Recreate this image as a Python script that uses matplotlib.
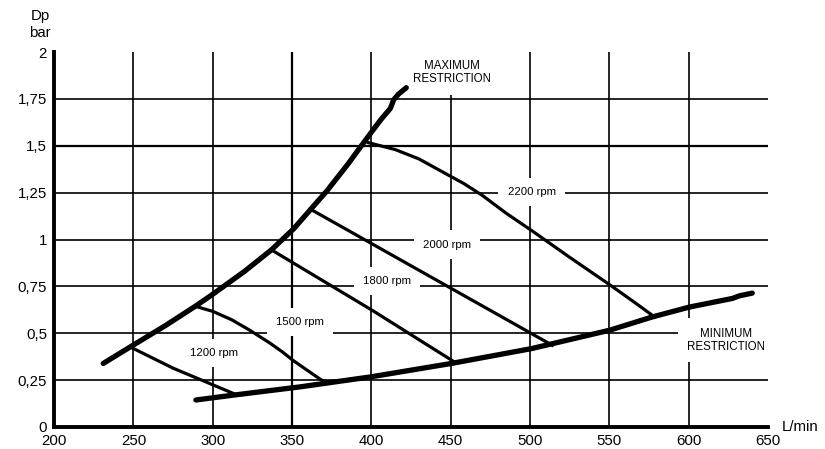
import matplotlib.pyplot as plt

plt.rcParams['font.family'] = ['Liberation Sans', 'DejaVu Sans']

# maximum / minimum restriction curves (L/min, bar)
max_x = [231, 248, 270, 289, 300, 320, 337, 351, 361, 372, 385, 398, 406, 412, 414, 417, 422]
max_y = [0.339, 0.427, 0.54, 0.644, 0.708, 0.83, 0.945, 1.057, 1.154, 1.26, 1.40, 1.55, 1.64, 1.70, 1.745, 1.775, 1.81]
min_x = [289.4, 313, 355, 400, 450.4, 500.8, 550, 577, 600.5, 627.6, 632, 640]
min_y = [0.144, 0.17, 0.214, 0.268, 0.339, 0.418, 0.516, 0.587, 0.64, 0.686, 0.70, 0.714]

# constant speed curves
rpm_1200_x = [248, 275, 313]
rpm_1200_y = [0.427, 0.314, 0.179]
rpm_1500_x = [289, 300, 312, 323.4, 336, 344, 350.5, 360, 368.6, 372]
rpm_1500_y = [0.644, 0.617, 0.572, 0.516, 0.448, 0.40, 0.356, 0.30, 0.25, 0.24]
rpm_1800_x = [337, 401, 452.5]
rpm_1800_y = [0.945, 0.62, 0.346]
rpm_2000_x = [362, 514]
rpm_2000_y = [1.16, 0.436]
rpm_2200_x = [398, 415, 430, 445, 458, 470, 485, 501, 525, 550, 565, 578.5]
rpm_2200_y = [1.517, 1.48, 1.43, 1.36, 1.30, 1.235, 1.14, 1.048, 0.905, 0.76, 0.67, 0.587]

labels = ['1200 rpm', '1500 rpm', '1800 rpm', '2000 rpm', '2200 rpm']
label_x = [301, 355, 410, 447.5, 501]
label_y = [0.394, 0.56, 0.777, 0.973, 1.255]

xticks = [200, 250, 300, 350, 400, 450, 500, 550, 600, 650]
yticks = [0, 0.25, 0.5, 0.75, 1, 1.25, 1.5, 1.75, 2]
ytick_labels = ['0', '0,25', '0,5', '0,75', '1', '1,25', '1,5', '1,75', '2']

fig = plt.figure(figsize=(8.25, 4.49), dpi=100)
ax = fig.add_axes([0.0655, 0.049, 0.8655, 0.835])
ax.set_xlim(200, 650)
ax.set_ylim(0, 2)

# grid
for gx in xticks[1:-1]:
    ax.plot([gx, gx], [0, 2], color='black', lw=1.6 if gx == 350 else 1.2, zorder=1)
for gy in yticks[1:-1]:
    ax.plot([200, 650], [gy, gy], color='black', lw=1.6 if gy == 1.5 else 1.2, zorder=1)

ax.plot(max_x, max_y, color='black', lw=3.8, solid_capstyle='round', solid_joinstyle='round', zorder=3)
ax.plot(min_x, min_y, color='black', lw=3.8, solid_capstyle='round', solid_joinstyle='round', zorder=3)
for xs, ys in [(rpm_1200_x, rpm_1200_y), (rpm_1500_x, rpm_1500_y), (rpm_1800_x, rpm_1800_y),
               (rpm_2000_x, rpm_2000_y), (rpm_2200_x, rpm_2200_y)]:
    ax.plot(xs, ys, color='black', lw=2.3, solid_joinstyle='round', zorder=3)

box = dict(facecolor='white', edgecolor='none', boxstyle='square,pad=0.8')
for t, lx, ly in zip(labels, label_x, label_y):
    ax.text(lx, ly, t, fontsize=8.2, ha='center', va='center', bbox=box, zorder=2)
ax.text(450.6, 1.89, 'MAXIMUM\nRESTRICTION', fontsize=8.3, ha='center', va='center',
        linespacing=1.15, bbox=box, zorder=2)
ax.text(623.7, 0.463, 'MINIMUM\nRESTRICTION', fontsize=8.3, ha='center', va='center',
        linespacing=1.15, bbox=box, zorder=2)

for s in ['top', 'right']:
    ax.spines[s].set_visible(False)
ax.spines['left'].set_linewidth(2.8)
ax.spines['bottom'].set_linewidth(2.8)
ax.spines['left'].set_zorder(4)
ax.spines['bottom'].set_zorder(4)

ax.set_xticks(xticks)
ax.set_yticks(yticks)
ax.set_yticklabels(ytick_labels)
ax.tick_params(length=0, labelsize=10.8, pad=5)

fig.text(40 / 825, 1 - 16 / 449, 'Dp', fontsize=10.8, ha='center', va='center')
fig.text(40 / 825, 1 - 33 / 449, 'bar', fontsize=10.8, ha='center', va='center')
fig.text(800 / 825, 1 - 427 / 449, 'L/min', fontsize=10.8, ha='center', va='center')

fig.savefig('out.png', dpi=100)
